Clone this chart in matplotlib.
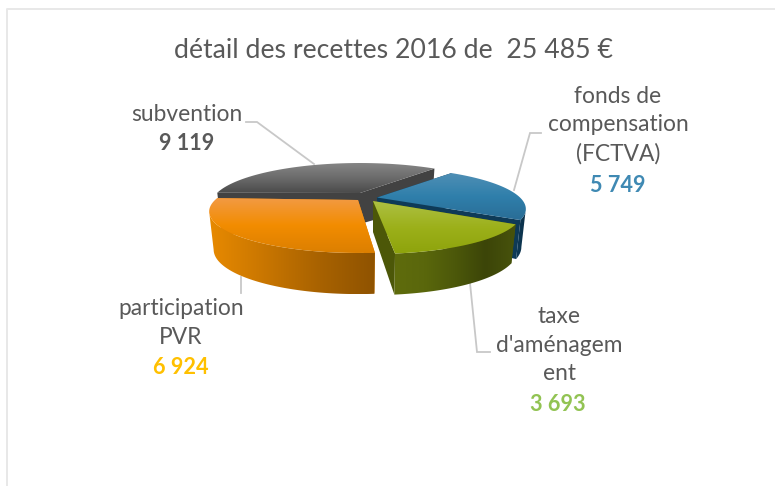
import numpy as np
import matplotlib
matplotlib.use("Agg")
import matplotlib.pyplot as plt
from matplotlib.colors import LinearSegmentedColormap as LSC
from matplotlib.patches import Polygon

plt.rcParams['font.family'] = ['Lato', 'DejaVu Sans']

# ---- data ----
title = "détail des recettes 2016 de  25 485 €"
categories = ["subvention", "fonds de\ncompensation\n(FCTVA)", "taxe\nd'aménagem\nent", "participation\nPVR"]
values = [9119, 5749, 3693, 6924]
value_labels = ["9 119", "5 749", "3 693", "6 924"]
value_colors = ["#595959", "#3F89B3", "#92C353", "#FFC000"]

# ---- style / projection ----
START = -89.6      # clockwise from the back of the pie
R, RY, K = 143.0, 38.3, 0.277
H, H_CENTRE, KH, SHRINK = 37.0, 31.0, 0.10, 0.97
centres = [(360, 193), (377, 197.5), (373, 201), (358, 200)]
nudges = [0, 0, 1.0, 2.5]
top_cols = [["#858585", "#6b6b6b", "#4a4a4a"],
            ["#4f8fb5", "#2f7fab", "#2a6d96"],
            ["#adc043", "#9cb01a", "#8ea30c"],
            ["#f39a43", "#f28c00", "#dc7f00"]]
wall_cols = [["#404040", "#404040"],
             ["#0e3a57", "#0c3048"],
             ["#5f6c0c", "#5a670c", "#4c580a", "#3c4508", "#48530c"],
             ["#e88a00", "#c97600", "#a86200", "#8f5300"]]
side_cols = ["#424242", "#0e3a57", "#4c5708", "#e08000"]
leaders = [[(246, 122), (257, 122), (314, 164)],
           [(514, 190), (530, 133), (541, 133)],
           [(470, 283), (477, 352), (490, 352)],
           [(241, 277), (241, 293)]]
cat_pos = [(187, 114), (618, 125), (559, 345), (181, 323)]
val_pos = [(187, 143), (618, 185), (558, 404), (181, 367)]

fig = plt.figure(figsize=(7.75, 4.86), dpi=100)
ax = fig.add_axes([0, 0, 1, 1])
ax.axis("off")


def project(theta, centre, level=0.0):
    t = np.radians(theta)
    u, v = np.sin(t), -np.cos(t)
    d = 1 - K * v
    sx = 1 - (1 - SHRINK) * level
    x = centre[0] + sx * R * u / d
    y = centre[1] + RY * v / d + level * H / (1 - KH * v)
    return x, y


def shade(pts, colors, horizontal, z):
    pts = np.asarray(pts)
    xa, ya = pts.min(axis=0)
    xb, yb = pts.max(axis=0)
    cmap = LSC.from_list("c", colors)
    g = np.linspace(0, 1, 256)
    img = g.reshape(1, -1) if horizontal else g.reshape(-1, 1)
    im = ax.imshow(img, cmap=cmap, extent=(xa, xb, yb, ya), aspect="auto",
                   origin="upper", zorder=z, interpolation="bilinear")
    patch = Polygon(pts, closed=True, transform=ax.transData, fc="none", ec="none")
    ax.add_patch(patch)
    im.set_clip_path(patch)


angle = START
for i, (val, c, nudge) in enumerate(zip(values, centres, nudges)):
    a0, a1 = angle + nudge, angle + nudge + 360 * val / sum(values)
    angle += 360 * val / sum(values)
    z = 10 + 3 * i
    th = np.linspace(a0, a1, 240)
    tx, ty = project(th, c)
    bx, by = project(th, c, 1)
    cb = (c[0], c[1] + H_CENTRE)
    # radial walls behind the outer wall
    for a in (a0, a1):
        ax.add_patch(Polygon([c, project(a, c), project(a, c, 1), cb], closed=True,
                             fc=side_cols[i], ec="none", zorder=z))
    # outer wall: the part of each rim running right-to-left faces the viewer
    ft = np.gradient(tx) < 0
    fb = np.gradient(bx) < 0
    if ft.any() and fb.any():
        wall = np.r_[np.c_[tx[ft], ty[ft]], np.c_[bx[fb], by[fb]][::-1]]
        shade(wall, wall_cols[i], True, z + 1)
    # top face
    shade(np.r_[[c], np.c_[tx, ty]], top_cols[i], False, z + 2)

ax.set_xlim(0, 775)
ax.set_ylim(486, 0)

# chart frame
ax.plot([7, 7, 775], [486, 9, 9], color="#E8E8E8", lw=1.4, zorder=1)

for pts in leaders:
    xs, ys = zip(*pts)
    ax.plot(xs, ys, color="#C8C8C8", lw=1.3, zorder=5, solid_joinstyle="miter")

ax.text(394, 50, title, ha="center", va="center", fontsize=19.2, color="#595959")
for cat, lab, col, cp, vp in zip(categories, value_labels, value_colors, cat_pos, val_pos):
    ax.text(cp[0], cp[1], cat, ha="center", va="center", fontsize=16.4, color="#595959",
            linespacing=1.44)
    ax.text(vp[0], vp[1], lab, ha="center", va="center", fontsize=15.6, color=col, fontweight="bold")

fig.savefig("out.png", dpi=100)
